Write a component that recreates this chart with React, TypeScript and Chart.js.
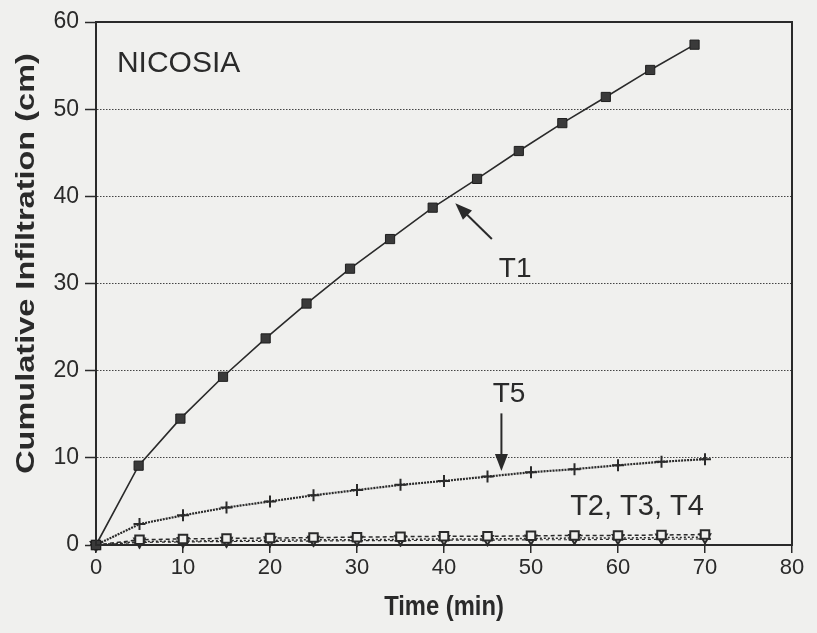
import React, { useEffect, useRef } from "react";
import { Chart, registerables } from "chart.js";

Chart.register(...registerables);

// ---------- data ----------
const timeT1 = [0, 4.9, 9.7, 14.6, 19.5, 24.2, 29.2, 33.8, 38.7, 43.8, 48.6, 53.6, 58.6, 63.7, 68.8];
const infT1 = [0, 9.1, 14.5, 19.3, 23.7, 27.7, 31.7, 35.1, 38.7, 42.0, 45.2, 48.4, 51.4, 54.5, 57.4];
const timeStd = [0, 5, 10, 15, 20, 25, 30, 35, 40, 45, 50, 55, 60, 65, 70];
const infT5 = [0, 2.4, 3.4, 4.3, 5.0, 5.7, 6.3, 6.9, 7.35, 7.85, 8.35, 8.7, 9.15, 9.55, 9.85];
const infT2 = [0, 0.6, 0.7, 0.75, 0.8, 0.85, 0.9, 0.95, 1.0, 1.0, 1.05, 1.1, 1.1, 1.15, 1.2];
const infT3 = [0, 0.4, 0.45, 0.5, 0.55, 0.6, 0.6, 0.65, 0.7, 0.7, 0.75, 0.8, 0.8, 0.85, 0.9];
const infT4 = [0, 0.3, 0.35, 0.4, 0.4, 0.45, 0.5, 0.5, 0.55, 0.55, 0.6, 0.6, 0.65, 0.65, 0.7];

const xMin = 0, xMax = 80, xStep = 10;
const yMin = 0, yMax = 60, yStep = 10;

const xTitle = "Time (min)";
const yTitle = "Cumulative Infiltration (cm)";
const siteLabel = "NICOSIA";
const labelT1 = "T1";
const labelT5 = "T5";
const labelLow = "T2, T3, T4";

// ---------- style ----------
const BG = "#f0f0ee";
const INK = "#2a2a2a";
const FONT = '"Liberation Sans", Arial, Helvetica, sans-serif';

const pairs = (xs: number[], ys: number[]) => xs.map((x, i) => ({ x, y: ys[i] }));

function arrow(ctx: CanvasRenderingContext2D, x1: number, y1: number, x2: number, y2: number) {
  const ang = Math.atan2(y2 - y1, x2 - x1);
  const L = 17, W = 6.5;
  ctx.save();
  ctx.strokeStyle = INK;
  ctx.fillStyle = INK;
  ctx.lineWidth = 2;
  ctx.beginPath();
  ctx.moveTo(x1, y1);
  ctx.lineTo(x2 - Math.cos(ang) * L * 0.8, y2 - Math.sin(ang) * L * 0.8);
  ctx.stroke();
  ctx.beginPath();
  ctx.moveTo(x2, y2);
  ctx.lineTo(x2 - Math.cos(ang) * L - Math.sin(ang) * W, y2 - Math.sin(ang) * L + Math.cos(ang) * W);
  ctx.lineTo(x2 - Math.cos(ang) * L + Math.sin(ang) * W, y2 - Math.sin(ang) * L - Math.cos(ang) * W);
  ctx.closePath();
  ctx.fill();
  ctx.restore();
}

const decor = {
  id: "decor",
  beforeDraw(chart: any) {
    const { ctx, width, height } = chart;
    ctx.save();
    ctx.fillStyle = BG;
    ctx.fillRect(0, 0, width, height);
    ctx.restore();
  },
  afterDraw(chart: any) {
    const { ctx, chartArea: a, scales } = chart;
    const xs = scales.x, ys = scales.y;
    const px = (v: number) => xs.getPixelForValue(v);
    const py = (v: number) => ys.getPixelForValue(v);
    ctx.save();
    // frame
    ctx.strokeStyle = INK;
    ctx.lineWidth = 2;
    ctx.strokeRect(a.left, a.top, a.right - a.left, a.bottom - a.top);

    ctx.fillStyle = INK;
    ctx.textAlign = "left";
    ctx.textBaseline = "alphabetic";
    ctx.font = `30px ${FONT}`;
    ctx.fillText(siteLabel, px(2.4), py(54.3));
    ctx.font = `28px ${FONT}`;
    ctx.fillText(labelT1, px(46.3), py(30.8));
    ctx.fillText(labelT5, px(45.6), py(16.4));
    ctx.font = `29px ${FONT}`;
    ctx.fillText(labelLow, px(54.5), py(3.4));

    arrow(ctx, px(45.5), py(35.1), px(41.3), py(39.2));
    arrow(ctx, px(46.6), py(15.1), px(46.6), py(8.5));

    // axis titles
    ctx.font = `bold 25px ${FONT}`;
    ctx.textAlign = "center";
    ctx.textBaseline = "middle";
    ctx.save();
    ctx.translate(27, (a.top + a.bottom) / 2 - 20);
    ctx.rotate(-Math.PI / 2);
    ctx.scale(1.3, 1);
    ctx.fillText(yTitle, 0, 0);
    ctx.restore();

    ctx.font = `bold 27px ${FONT}`;
    ctx.save();
    ctx.translate((a.left + a.right) / 2, 608);
    ctx.scale(0.88, 1);
    ctx.fillText(xTitle, 0, 0);
    ctx.restore();

    ctx.restore();
  },
};

export default function App() {
  const ref = useRef<HTMLCanvasElement | null>(null);

  useEffect(() => {
    document.body.style.margin = "0";
    document.body.style.background = BG;
    const canvas = ref.current;
    if (!canvas) return;
    const chart = new Chart(canvas, {
      type: "line",
      data: {
        datasets: [
          {
            label: "T1",
            data: pairs(timeT1, infT1),
            borderColor: INK,
            borderWidth: 1.6,
            pointStyle: "rect",
            pointRadius: 6.5,
            pointBackgroundColor: "#3a3a3a",
            pointBorderColor: "#1e1e1e",
            pointBorderWidth: 1,
            clip: false,
          },
          {
            label: "T5",
            data: pairs(timeStd, infT5),
            borderColor: INK,
            borderWidth: 2.2,
            borderDash: [2, 1],
            pointStyle: "cross",
            pointRadius: 6,
            pointBorderColor: INK,
            pointBorderWidth: 2,
            clip: false,
          },
          {
            label: "T2",
            data: pairs(timeStd, infT2),
            borderColor: INK,
            borderWidth: 1.5,
            borderDash: [4, 3],
            pointStyle: "rect",
            pointRadius: 6,
            pointBackgroundColor: BG,
            pointBorderColor: INK,
            pointBorderWidth: 2,
            clip: false,
          },
          {
            label: "T3",
            data: pairs(timeStd, infT3),
            borderColor: INK,
            borderWidth: 1.5,
            borderDash: [2, 2],
            pointStyle: "triangle",
            rotation: 180,
            pointRadius: 6,
            pointBackgroundColor: BG,
            pointBorderColor: INK,
            pointBorderWidth: 2,
            clip: false,
          },
          {
            label: "T4",
            data: pairs(timeStd, infT4),
            borderColor: INK,
            borderWidth: 1.2,
            borderDash: [3, 3],
            pointStyle: "cross",
            pointRadius: 6,
            pointBorderColor: INK,
            pointBorderWidth: 1.5,
            clip: false,
          },
        ],
      },
      options: {
        animation: false,
        responsive: false,
        events: [],
        layout: { padding: { left: 0, right: 25, top: 22, bottom: 0 } },
        plugins: { legend: { display: false }, tooltip: { enabled: false } },
        elements: { line: { tension: 0 } },
        scales: {
          x: {
            type: "linear",
            min: xMin,
            max: xMax,
            ticks: {
              stepSize: xStep,
              color: INK,
              font: { family: FONT, size: 22 },
              padding: 2,
              maxRotation: 0,
            },
            grid: {
              drawOnChartArea: false,
              drawTicks: true,
              tickLength: 8,
              color: INK,
              lineWidth: 1.5,
            },
            border: { display: true, color: INK, width: 2 },
            afterFit: (s: any) => {
              s.height = 88;
            },
          },
          y: {
            type: "linear",
            min: yMin,
            max: yMax,
            ticks: {
              stepSize: yStep,
              color: INK,
              font: { family: FONT, size: 23 },
              padding: 6,
            },
            grid: {
              color: "#444",
              lineWidth: 1,
              tickLength: 11,
              tickColor: INK,
              tickWidth: 1.5,
            },
            border: { display: true, color: INK, width: 2, dash: [1.5, 1.5] },
            afterFit: (s: any) => {
              s.width = 96;
            },
          },
        },
      },
      plugins: [decor],
    });
    return () => chart.destroy();
  }, []);

  return (
    <div style={{ width: 817, height: 633, background: BG }}>
      <canvas ref={ref} width={817} height={633} style={{ display: "block" }} />
    </div>
  );
}
